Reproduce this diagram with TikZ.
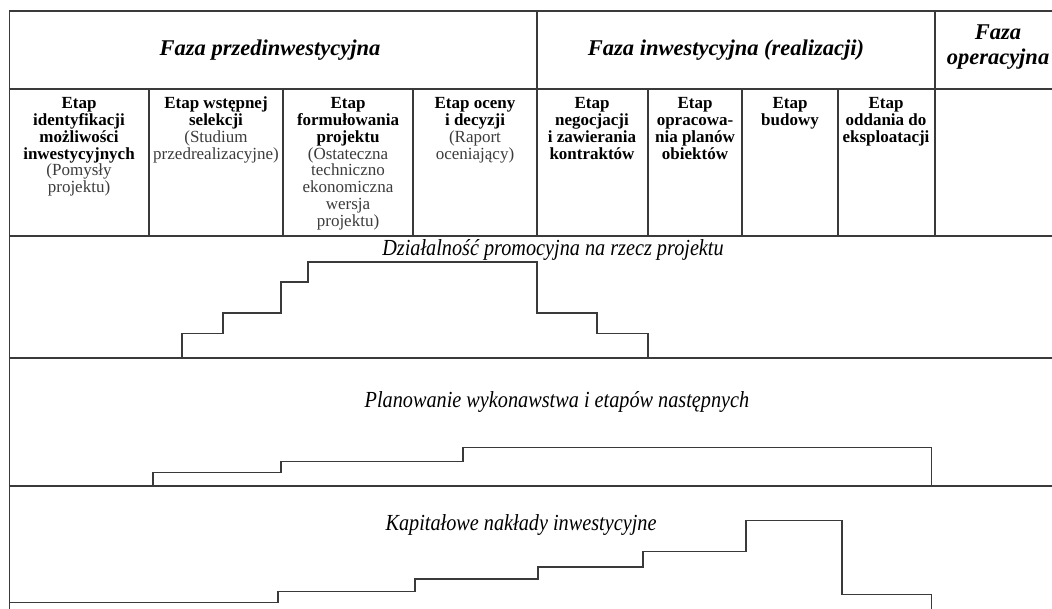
\documentclass[tikz,border=0pt]{standalone}
\usepackage{fontspec}
\setmainfont{Liberation Serif}
\newfontfamily\narrowserif[FakeStretch=0.88]{Liberation Serif}
\definecolor{linegray}{HTML}{3A3A3A}
\definecolor{notegray}{HTML}{3C3C3C}

\begin{document}
\begin{tikzpicture}[x=1pt,y=-1pt,
  rule/.style={draw=linegray, line width=1.2pt},
  stair/.style={draw=linegray, line width=1.5pt},
  phase/.style={font=\fontsize{22.5}{25}\selectfont\bfseries\itshape, align=center, inner sep=0pt},
  stage/.style={font=\fontsize{17}{16.9}\selectfont, align=center, anchor=north, inner sep=0pt},
  activity/.style={font=\narrowserif\itshape\fontsize{23}{25}\selectfont, inner sep=0pt}]
\useasboundingbox (0,0) rectangle (1052,609);
\fill[white] (0,0) rectangle (1052,609);

% table frame and row rules
\draw[rule] (9.5,609) -- (9.5,11) -- (1052,11);
\foreach \y in {89,236,358,486}
  \draw[rule] (9.5,\y) -- (1052,\y);
% phase dividers
\draw[rule] (537,11) -- (537,236);
\draw[rule] (935,11) -- (935,236);
% stage dividers
\foreach \x in {149,283,413,648,742,838}
  \draw[rule] (\x,89) -- (\x,236);

% phases
\node[phase] (pre)  at (270,50) {Faza przedinwestycyjna};
\node[phase] (inv)  at (726,50) {Faza inwestycyjna (realizacji)};
\node[phase] (oper) at (998,47) {Faza\\operacyjna};

% stages
\node[stage] (s1) at (79,97) {\textbf{Etap}\\\textbf{identyfikacji}\\\textbf{możliwości}\\\textbf{inwestycyjnych}\\\textcolor{notegray}{(Pomysły}\\\textcolor{notegray}{projektu)}};
\node[stage] (s2) at (216,97) {\textbf{Etap wstępnej}\\\textbf{selekcji}\\\textcolor{notegray}{(Studium}\\\textcolor{notegray}{przedrealizacyjne)}};
\node[stage] (s3) at (348,97) {\textbf{Etap}\\\textbf{formułowania}\\\textbf{projektu}\\\textcolor{notegray}{(Ostateczna}\\\textcolor{notegray}{techniczno}\\\textcolor{notegray}{ekonomiczna}\\\textcolor{notegray}{wersja}\\\textcolor{notegray}{projektu)}};
\node[stage] (s4) at (475,97) {\textbf{Etap oceny}\\\textbf{i decyzji}\\\textcolor{notegray}{(Raport}\\\textcolor{notegray}{oceniający)}};
\node[stage] (s5) at (592,97) {\textbf{Etap}\\\textbf{negocjacji}\\\textbf{i zawierania}\\\textbf{kontraktów}};
\node[stage] (s6) at (695,97) {\textbf{Etap}\\\textbf{opracowa-}\\\textbf{nia planów}\\\textbf{obiektów}};
\node[stage] (s7) at (790,97) {\textbf{Etap}\\\textbf{budowy}};
\node[stage] (s8) at (886,97) {\textbf{Etap}\\\textbf{oddania do}\\\textbf{eksploatacji}};

% activity profiles
\node[activity] (promo) at (553,250) {Działalność promocyjna na rzecz projektu};
\draw[stair] (182,358) -- (182,333.5) -- (223,333.5) -- (223,313) -- (281,313)
  -- (281,282) -- (308,282) -- (308,262) -- (537,262) -- (537,313)
  -- (597,313) -- (597,333.5) -- (648,333.5) -- (648,358);

\node[activity] (plan) at (557,402) {Planowanie wykonawstwa i etapów następnych};
\draw[stair] (153,486) -- (153,472.5) -- (281,472.5) -- (281,461.5) -- (463,461.5)
  -- (463,447.5) -- (931.5,447.5) -- (931.5,486);

\node[activity] (capex) at (521,525) {Kapitałowe nakłady inwestycyjne};
\draw[stair] (9.5,602.5) -- (278,602.5) -- (278,591.5) -- (415,591.5) -- (415,579)
  -- (538,579) -- (538,567) -- (643,567) -- (643,551.7) -- (746,551.7)
  -- (746,520.5) -- (842,520.5) -- (842,594.5) -- (931.5,594.5) -- (931.5,609);
\end{tikzpicture}
\end{document}
